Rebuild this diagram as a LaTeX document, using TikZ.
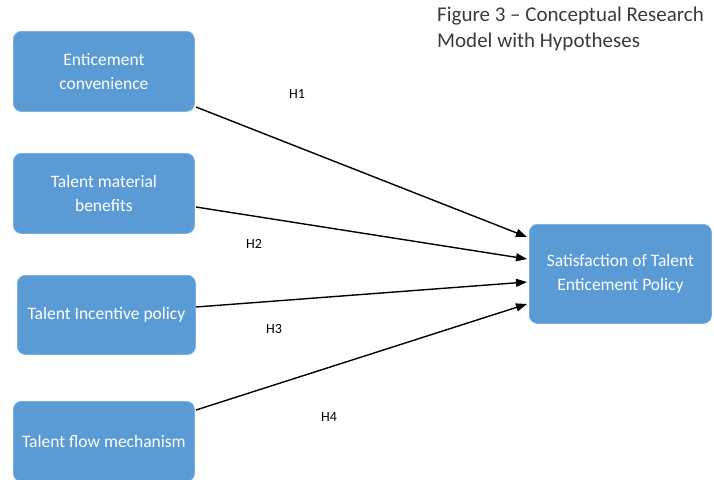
\documentclass[tikz,border=0pt]{standalone}
\usepackage{fontspec}
\setmainfont{Carlito}
\usetikzlibrary{arrows.meta}
\definecolor{boxblue}{HTML}{5B9BD5}
\definecolor{boxedge}{HTML}{7AAFE0}
\definecolor{titlegray}{HTML}{3A3A3A}
\tikzset{
  box/.style={draw=boxedge, line width=0.8pt, fill=boxblue, rounded corners=8pt, text=white,
    font=\fontsize{17.5}{24}\selectfont, align=center, inner sep=0pt},
  link/.style={-{Triangle[length=11pt,width=8pt]}, line width=1.4pt, black},
  hlab/.style={font=\fontsize{14}{16}\selectfont, text=black}
}
\begin{document}
\begin{tikzpicture}[x=1pt,y=-1pt]
\useasboundingbox (0,0) rectangle (714,479);
\node[box, minimum width=181pt, minimum height=80pt, anchor=north west] (a) at (13,31) {Enticement\\convenience};
\node[box, minimum width=181pt, minimum height=80pt, anchor=north west] (b) at (13,153) {Talent material\\benefits};
\node[box, minimum width=178pt, minimum height=79pt, anchor=north west] (c) at (17,275) {Talent Incentive policy};
\node[box, minimum width=181pt, minimum height=80pt, anchor=north west] (d) at (13,401) {Talent flow mechanism};
\node[box, minimum width=182pt, minimum height=99pt, anchor=north west] (s) at (529,224) {Satisfaction of Talent\\Enticement Policy};
\node[anchor=north west, align=left, text=titlegray, font=\fontsize{21}{26}\selectfont, inner sep=0pt] (t) at (437,7) {Figure 3 -- Conceptual Research\\Model with Hypotheses};
\coordinate (a1) at (196,107); \coordinate (s1) at (527,237);
\coordinate (b1) at (196,207); \coordinate (s2) at (527,259);
\coordinate (c1) at (196,307); \coordinate (s3) at (527,282);
\coordinate (d1) at (196,410); \coordinate (s4) at (527,304);
\draw[link] (a1) -- (s1);
\draw[link] (b1) -- (s2);
\draw[link] (c1) -- (s3);
\draw[link] (d1) -- (s4);
\node[hlab] (h1) at (297,94) {H1};
\node[hlab] (h2) at (254,244) {H2};
\node[hlab] (h3) at (274,329) {H3};
\node[hlab] (h4) at (329,417) {H4};
\end{tikzpicture}
\end{document}
